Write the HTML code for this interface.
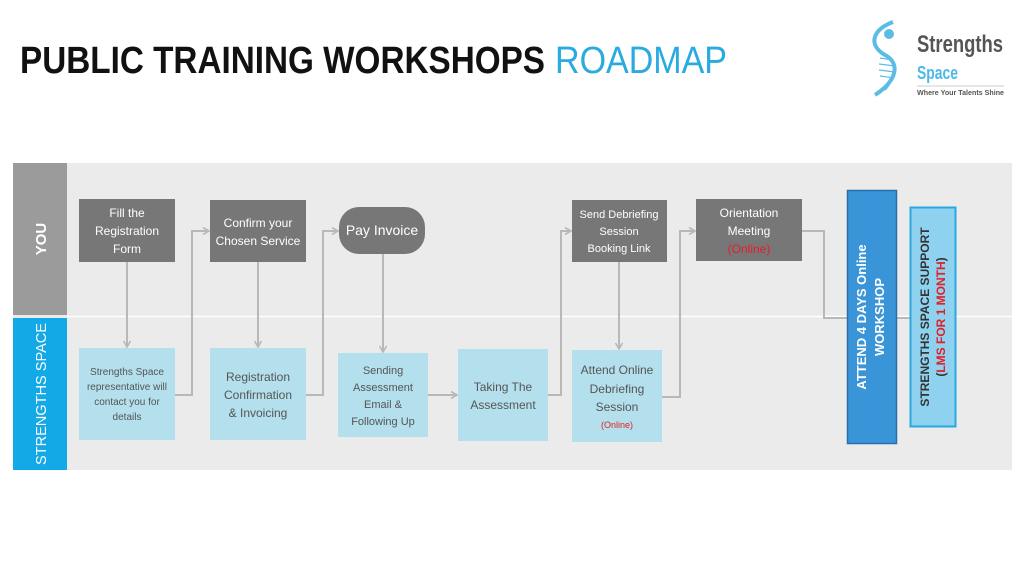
<!DOCTYPE html>
<html><head><meta charset="utf-8"><style>
body{margin:0;background:#fff;}
svg{display:block;font-family:"Liberation Sans",sans-serif;}
</style></head><body>
<svg width="1024" height="576" viewBox="0 0 1024 576" xmlns="http://www.w3.org/2000/svg">
<defs>
<marker id="a" markerWidth="8" markerHeight="8" refX="7" refY="4" orient="auto" markerUnits="userSpaceOnUse"><path d="M1,0.5 L7,4 L1,7.5" fill="none" stroke="#b8b8b8" stroke-width="1.6"/></marker>
</defs>
<rect width="1024" height="576" fill="#fff"/>
<text x="20" y="73" font-size="38" font-weight="bold" fill="#111" textLength="525" lengthAdjust="spacingAndGlyphs">PUBLIC TRAINING WORKSHOPS</text>
<text x="555" y="73" font-size="38" fill="#29abe2" textLength="172" lengthAdjust="spacingAndGlyphs">ROADMAP</text>
<!-- logo -->
<g>
<path d="M893,22 C872,30 868,45 885,55 C900,63 898,80 875,95" fill="none" stroke="#5bbde6" stroke-width="4"/>
<path d="M878,50 C895,58 900,72 885,90" fill="none" stroke="#5bbde6" stroke-width="2"/>
<g stroke="#5bbde6" stroke-width="1.2"><line x1="880" y1="58" x2="893" y2="60"/><line x1="879" y1="64" x2="895" y2="66"/><line x1="879" y1="70" x2="895" y2="72"/><line x1="880" y1="76" x2="894" y2="78"/></g>
<circle cx="889" cy="34" r="5" fill="#5bbde6"/>
<text x="917" y="52" font-size="24" font-weight="bold" fill="#555" textLength="86" lengthAdjust="spacingAndGlyphs">Strengths</text>
<text x="917" y="79" font-size="18" font-weight="bold" fill="#4db8e6" textLength="41" lengthAdjust="spacingAndGlyphs">Space</text>
<line x1="917" y1="86" x2="1004" y2="86" stroke="#bbb" stroke-width="0.8"/>
<text x="917" y="95" font-size="7" font-weight="bold" fill="#555" textLength="87" lengthAdjust="spacingAndGlyphs">Where Your Talents Shine</text>
</g>
<!-- panel -->
<rect x="13" y="163" width="999" height="307" fill="#ebebeb"/>
<line x1="67" y1="316.5" x2="1012" y2="316.5" stroke="#fff" stroke-width="1.5"/>
<rect x="13" y="163" width="54" height="152" fill="#9b9b9b"/>
<rect x="13" y="318" width="54" height="152" fill="#12a9e6"/>
<text transform="translate(46,239) rotate(-90)" text-anchor="middle" font-size="15" font-weight="bold" fill="#fff">YOU</text>
<text transform="translate(46,394) rotate(-90)" text-anchor="middle" font-size="15" fill="#fff" textLength="142" lengthAdjust="spacingAndGlyphs">STRENGTHS SPACE</text>
<!-- connectors -->
<g fill="none" stroke="#b8b8b8" stroke-width="2">
<path d="M127,262 V347" marker-end="url(#a)"/>
<path d="M175,395 H192 V231 H209" marker-end="url(#a)"/>
<path d="M258,262 V347" marker-end="url(#a)"/>
<path d="M306,395 H323 V231 H338" marker-end="url(#a)"/>
<path d="M383,254 V352" marker-end="url(#a)"/>
<path d="M428,395 H457" marker-end="url(#a)"/>
<path d="M548,395 H561 V231 H571" marker-end="url(#a)"/>
<path d="M619,262 V349" marker-end="url(#a)"/>
<path d="M662,397 H680 V231 H695" marker-end="url(#a)"/>
<path d="M802,231 H824 V318 H847"/>
<path d="M897,318 H910"/>
</g>
<!-- YOU boxes -->
<g fill="#777">
<rect x="79" y="199" width="96" height="63"/>
<rect x="210" y="200" width="96" height="62"/>
<rect x="339" y="207" width="86" height="47" rx="20"/>
<rect x="572" y="200" width="95" height="62"/>
<rect x="696" y="199" width="106" height="62"/>
</g>
<g fill="#fff" font-size="12" text-anchor="middle">
<text x="127" y="217">Fill the</text><text x="127" y="235">Registration</text><text x="127" y="253">Form</text>
<text x="258" y="227">Confirm your</text><text x="258" y="245">Chosen Service</text>
<text x="382" y="235" font-size="14">Pay Invoice</text>
<text x="619" y="218" font-size="11">Send Debriefing</text><text x="619" y="235" font-size="11">Session</text><text x="619" y="252" font-size="11">Booking Link</text>
<text x="749" y="217">Orientation</text><text x="749" y="235">Meeting</text><text x="749" y="253" fill="#e31e24">(Online)</text>
</g>
<!-- SS boxes -->
<g fill="#b3e0ec">
<rect x="79" y="348" width="96" height="92"/>
<rect x="210" y="348" width="96" height="92"/>
<rect x="338" y="353" width="90" height="84"/>
<rect x="458" y="349" width="90" height="92"/>
<rect x="572" y="350" width="90" height="92"/>
</g>
<g fill="#555" font-size="12" text-anchor="middle">
<text x="127" y="375" font-size="10">Strengths Space</text><text x="127" y="390" font-size="10">representative will</text><text x="127" y="405" font-size="10">contact you for</text><text x="127" y="420" font-size="10">details</text>
<text x="258" y="381">Registration</text><text x="258" y="399">Confirmation</text><text x="258" y="417">&amp; Invoicing</text>
<text x="383" y="374" font-size="11">Sending</text><text x="383" y="391" font-size="11">Assessment</text><text x="383" y="408" font-size="11">Email &amp;</text><text x="383" y="425" font-size="11">Following Up</text>
<text x="503" y="391">Taking The</text><text x="503" y="409">Assessment</text>
<text x="617" y="374">Attend Online</text><text x="617" y="393">Debriefing</text><text x="617" y="411">Session</text><text x="617" y="428" font-size="9" fill="#e31e24">(Online)</text>
</g>
<!-- right boxes -->
<rect x="847.5" y="190.5" width="49" height="253" fill="#3a95d8" stroke="#2a6ea8" stroke-width="1.5"/>
<text transform="translate(866,317) rotate(-90)" text-anchor="middle" font-size="13" font-weight="bold" fill="#fff">ATTEND 4 DAYS Online</text>
<text transform="translate(884,317) rotate(-90)" text-anchor="middle" font-size="13" font-weight="bold" fill="#fff">WORKSHOP</text>
<rect x="910.5" y="207.5" width="45" height="219" fill="#8fd2f0" stroke="#29a8e0" stroke-width="2"/>
<text transform="translate(929,317) rotate(-90)" text-anchor="middle" font-size="12" font-weight="bold" fill="#333">STRENGTHS SPACE SUPPORT</text>
<text transform="translate(945,317) rotate(-90)" text-anchor="middle" font-size="12" font-weight="bold" fill="#333">(<tspan fill="#e31e24">LMS FOR 1 MONTH</tspan>)</text>
</svg>
</body></html>
